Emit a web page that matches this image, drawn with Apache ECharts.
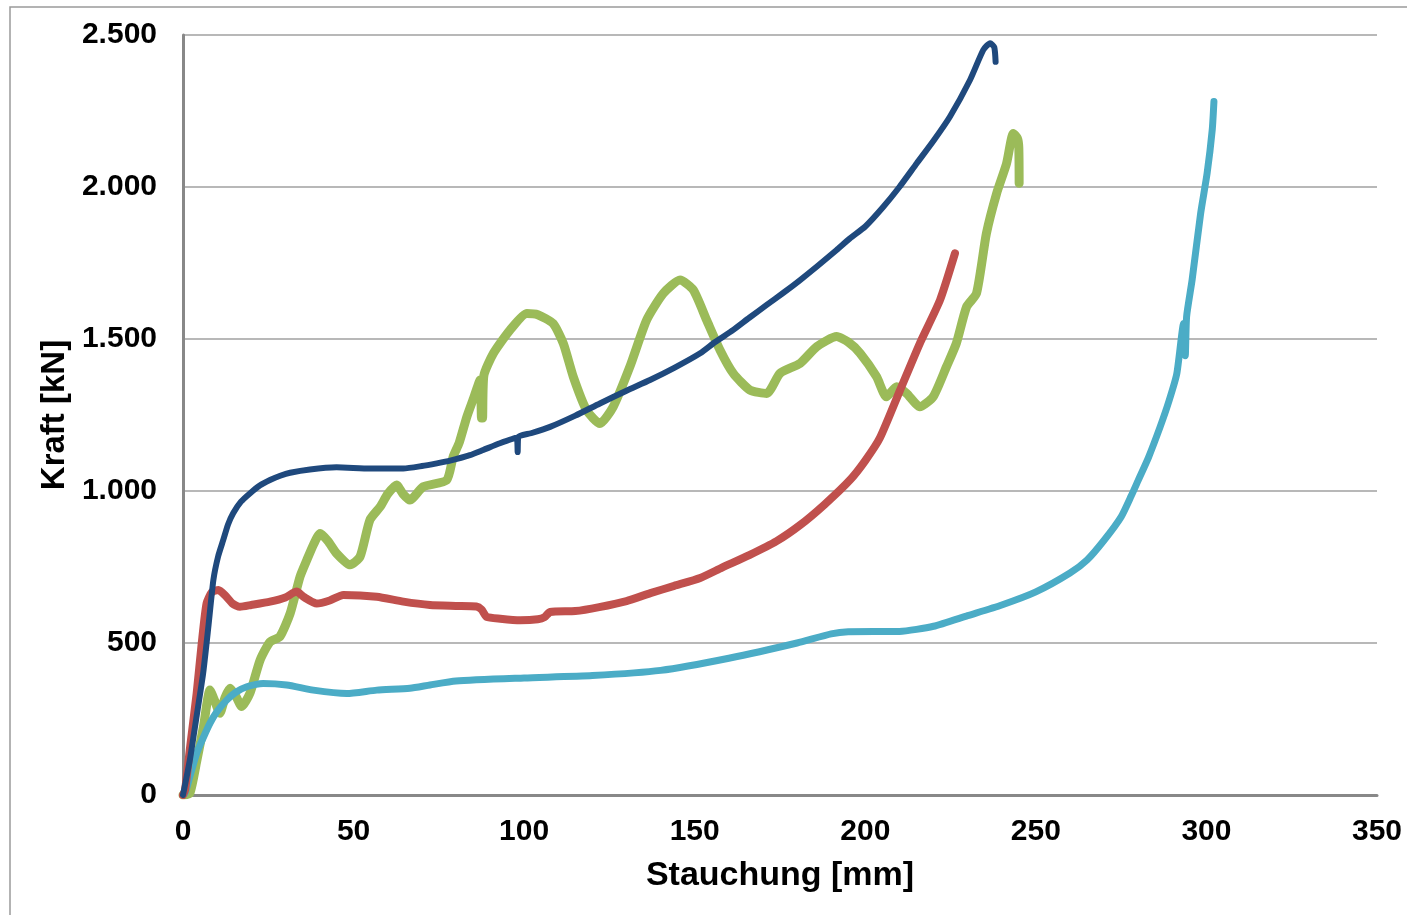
<!DOCTYPE html>
<html>
<head>
<meta charset="utf-8">
<script src="https://cdn.jsdelivr.net/npm/echarts@6/dist/echarts.min.js"></script>
<style>html,body{margin:0;padding:0;background:#fff;}#c{width:1407px;height:915px;}</style>
</head>
<body>
<div id="c"></div>
<script>
// Stauchung [mm] (x) and Kraft [kN] (y) for each test curve
const blueX = [0, 2, 4, 5.9, 7.5, 8.9, 10.3, 11.8, 13.2, 14.7, 17, 19.6, 22.5, 25.5, 28.5, 31.4, 37.2, 45, 54.8, 64.6, 70, 74.4, 78.3, 84.1, 88, 92.9, 97.8, 98.1, 98.3, 102, 107.6, 115, 122.2, 130, 136.9, 144, 151.6, 156, 161.3, 166, 171.1, 176, 180.9, 186, 191.6, 195.5, 200, 205.3, 210, 215.1, 220, 224.8, 230.7, 234.6, 236.6, 237.8, 238.2];
const blueY = [0, 115, 260, 400, 560, 707, 785, 839, 890, 927, 965, 992, 1018, 1036, 1050, 1060, 1071, 1078, 1074, 1074, 1082, 1091, 1100, 1118, 1135, 1157, 1175, 1128, 1178, 1190, 1211, 1248, 1288, 1330, 1365, 1405, 1453, 1490, 1530, 1570, 1612, 1652, 1694, 1740, 1793, 1831, 1870, 1935, 2000, 2078, 2152, 2231, 2352, 2451, 2473, 2460, 2412];

const redX = [0, 0.6, 2, 4, 5.5, 6.9, 8.5, 10.4, 12.5, 14.5, 16.7, 20, 25.5, 30, 33.3, 35.3, 39.2, 43, 47, 56.8, 64.6, 72.4, 80, 86, 87.5, 89, 93, 98.8, 104, 106, 107.6, 115, 122, 130, 137, 144, 151.6, 158, 166, 174, 180.9, 188, 195.5, 200, 204.3, 210.2, 216, 221.9, 226.3];
const redY = [0, 16, 150, 334, 500, 630, 668, 674, 655, 630, 619, 625, 636, 650, 669, 652, 630, 640, 658, 652, 636, 625, 622, 620, 610, 586, 580, 575, 578, 585, 602, 605, 618, 638, 664, 688, 714, 748, 789, 835, 888, 955, 1036, 1100, 1175, 1332, 1486, 1628, 1782];

const greenX = [0, 2, 4, 6, 7.9, 9.3, 10.8, 12.3, 13.8, 15.5, 17.2, 19.6, 22.6, 25.5, 28.4, 31.4, 34.3, 36.3, 38.3, 40.2, 42.5, 45, 49, 51.9, 54.8, 57.8, 60, 62.6, 64.5, 66.5, 70.4, 77.3, 79.2, 81, 83.2, 85, 87.1, 87.5, 87.8, 88.2, 91, 95.9, 100.8, 104, 108.5, 111.5, 114.4, 118.3, 122.2, 126.1, 131, 135.9, 140.8, 145.7, 149.6, 153.5, 157.4, 161.3, 166.2, 171.1, 175, 180.9, 185.8, 191.6, 195, 198.5, 203.3, 206.2, 209.2, 212.1, 216, 219.9, 223.8, 226.7, 229.7, 232.6, 235.5, 238.5, 241.4, 243.4, 244.6, 245, 245.1];
const greenY = [0, 6, 110, 225, 345, 310, 269, 320, 351, 325, 291, 334, 444, 504, 521, 597, 718, 773, 825, 860, 835, 795, 757, 784, 905, 948, 990, 1020, 990, 970, 1014, 1036, 1113, 1160, 1244, 1300, 1365, 1240, 1240, 1380, 1453, 1530, 1584, 1580, 1551, 1485, 1376, 1266, 1222, 1277, 1409, 1562, 1650, 1694, 1661, 1562, 1464, 1387, 1332, 1321, 1387, 1420, 1475, 1508, 1490, 1453, 1376, 1310, 1343, 1321, 1277, 1310, 1409, 1486, 1606, 1650, 1847, 1979, 2077, 2176, 2160, 2130, 2012];

const cyanX = [0, 0.6, 2, 4, 6, 7.9, 10, 12.8, 15.5, 18.7, 23.5, 30.4, 38.2, 48, 56.8, 66.5, 72.4, 80, 100, 120, 140, 160, 180, 190, 195, 210, 220, 230, 240, 250, 260, 265, 270, 275, 278, 280, 283, 286.4, 289, 291.3, 293.3, 293.8, 294.2, 295.8, 298.3, 300.2, 301.7, 302.2];
const cyanY = [0, 5, 60, 137, 190, 236, 275, 312, 338, 356, 367, 362, 345, 334, 345, 351, 362, 375, 385, 393, 410, 450, 500, 530, 537, 538, 555, 590, 625, 668, 730, 773, 838, 915, 985, 1035, 1110, 1210, 1295, 1385, 1551, 1445, 1575, 1694, 1913, 2045, 2188, 2281];

const xTicks = [0, 50, 100, 150, 200, 250, 300, 350];
const yTicks = [0, 500, 1000, 1500, 2000, 2500];

function zip(xs, ys) { return xs.map((x, i) => [x, ys[i]]); }
function fmt(v) { return String(v).replace(/\B(?=(\d{3})+(?!\d))/g, '.'); }

const chart = echarts.init(document.getElementById('c'), null, {renderer: 'canvas'});
const font = 'Liberation Sans, Arial, sans-serif';
chart.setOption({
  animation: false,
  backgroundColor: '#fff',
  graphic: [{
    type: 'rect', shape: {x: 10, y: 7, width: 1500, height: 1000},
    style: {fill: 'none', stroke: '#9a9a9a', lineWidth: 1.5}, z: -10
  }],
  grid: {left: 183, right: 30, top: 35, bottom: 120, containLabel: false},
  xAxis: {
    type: 'value', min: xTicks[0], max: xTicks[xTicks.length - 1], interval: 50,
    name: 'Stauchung [mm]', nameLocation: 'middle', nameGap: 64,
    nameTextStyle: {fontFamily: font, fontWeight: 'bold', fontSize: 34, color: '#000'},
    axisLine: {show: true, onZero: false, lineStyle: {color: '#888', width: 3}},
    axisTick: {show: false},
    splitLine: {show: false},
    axisLabel: {fontFamily: font, fontWeight: 'bold', fontSize: 30, color: '#000', margin: 22,
      formatter: v => fmt(v)}
  },
  yAxis: {
    type: 'value', min: yTicks[0], max: yTicks[yTicks.length - 1], interval: 500,
    name: 'Kraft [kN]', nameLocation: 'middle', nameGap: 112, nameRotate: 90,
    nameTextStyle: {fontFamily: font, fontWeight: 'bold', fontSize: 33, color: '#000'},
    axisLine: {show: true, lineStyle: {color: '#888', width: 3}},
    axisTick: {show: false},
    splitLine: {show: true, lineStyle: {color: '#a0a0a0', width: 1.5}},
    axisLabel: {fontFamily: font, fontWeight: 'bold', fontSize: 30, color: '#000', margin: 26,
      formatter: v => fmt(v)}
  },
  series: [
    {type: 'line', data: zip(greenX, greenY), showSymbol: false, smooth: 0.2,
      lineStyle: {color: '#9BBB59', width: 9, cap: 'round', join: 'round'}, z: 2},
    {type: 'line', data: zip(cyanX, cyanY), showSymbol: false, smooth: 0.2,
      lineStyle: {color: '#4BACC6', width: 7, cap: 'round', join: 'round'}, z: 3},
    {type: 'line', data: zip(redX, redY), showSymbol: false, smooth: 0.2,
      lineStyle: {color: '#C0504D', width: 8, cap: 'round', join: 'round'}, z: 4},
    {type: 'line', data: zip(blueX, blueY), showSymbol: false, smooth: 0.2,
      lineStyle: {color: '#1F497D', width: 6, cap: 'round', join: 'round'}, z: 5}
  ]
});
</script>
</body>
</html>
